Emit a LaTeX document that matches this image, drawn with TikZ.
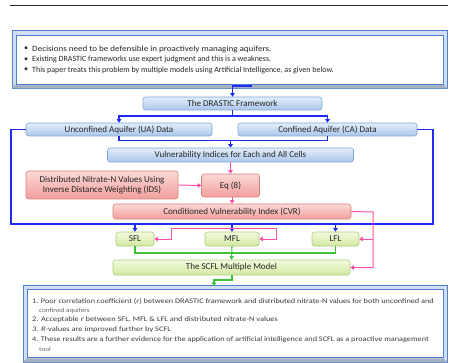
\documentclass[tikz,border=0pt]{standalone}
\usepackage{fontspec}
\usepackage{graphicx}
\setmainfont{Carlito}
\usetikzlibrary{arrows.meta,calc}
\definecolor{lblue}{HTML}{1F2BF5}
\definecolor{lpink}{HTML}{FF4FA8}
\definecolor{lgreen}{HTML}{3EC23A}
\definecolor{btop}{HTML}{E4EEFA}
\definecolor{bbot}{HTML}{A9C6EC}
\definecolor{bbord}{HTML}{7FA6DA}
\definecolor{ptop}{HTML}{FCD9D7}
\definecolor{pbot}{HTML}{F09F9C}
\definecolor{pbord}{HTML}{D8807C}
\definecolor{gtop}{HTML}{F3FAE0}
\definecolor{gbot}{HTML}{D2E9A0}
\definecolor{gbord}{HTML}{AECD78}
\definecolor{fblue}{HTML}{4F7FD2}
\definecolor{fbevel}{HTML}{D3DFF0}
\definecolor{fshade}{HTML}{A7B0BE}
\definecolor{txt}{HTML}{262626}
\begin{document}
\begin{tikzpicture}[x=1pt,y=1pt,
  box/.style={rounded corners=2.5pt, inner sep=0pt, minimum height=13pt, text=txt,
    font=\fontsize{9}{10}\selectfont, align=center},
  bluebox/.style={box, draw=bbord, line width=0.6pt, top color=btop, bottom color=bbot},
  pinkbox/.style={box, draw=pbord, line width=0.6pt, top color=ptop, bottom color=pbot},
  greenbox/.style={box, draw=gbord, line width=0.6pt, top color=gtop, bottom color=gbot},
  tip/.style={-{Triangle[width=4.5pt,length=3.5pt]}},
  bl/.style={draw=lblue, line width=1.1pt},
  bla/.style={bl, tip},
  pk/.style={draw=lpink, line width=1pt},
  pka/.style={pk, tip},
  gr/.style={draw=lgreen, line width=1.1pt},
  gra/.style={gr, tip},
  outerframe/.style={draw=fblue, line width=0.7pt, fill=fbevel, inner sep=0pt},
  innerframe/.style={draw=fblue, line width=0.5pt, fill=white, inner sep=0pt},
  topline/.style={anchor=west, inner sep=0pt, text=txt, font=\fontsize{8}{9}\selectfont},
  botline/.style={anchor=west, inner sep=0pt, text=txt!90, font=\fontsize{7}{8}\selectfont},
  botsmall/.style={anchor=west, inner sep=0pt, text=txt!70, font=\fontsize{6.3}{7}\selectfont}
]
\useasboundingbox (0,0) rectangle (449,-363);

% top rule
\coordinate (r1) at (10,-5);
\coordinate (r2) at (448,-5);
\draw[line width=0.8pt, black!85] (r1) -- (r2);

% top frame
\node[outerframe, minimum width=435pt, minimum height=58pt] (topouter) at (229.5,-59) {};
\fill[fshade] (topouter.south west) -- ++(4,4) -- ($(topouter.south east)+(-4,4)$) -- (topouter.south east) -- cycle;
\node[innerframe, minimum width=427pt, minimum height=49pt] (topbox) at (229.5,-59.5) {};
\node[topline] (b1) at (24,-49) {•};
\node[topline] (t1) at (32,-49) {\scalebox{1.13}[1]{Decisions need to be defensible in proactively managing aquifers.}};
\node[topline] (b2) at (24,-59.5) {•};
\node[topline] (t2) at (32,-59.5) {Existing DRASTIC frameworks use expert judgment and this is a weakness.};
\node[topline] (b3) at (24,-70) {•};
\node[topline] (t3) at (32,-70) {This paper treats this problem by multiple models using Artificial Intelligence, as given below.};

% boxes
\node[bluebox, minimum width=179pt] (dr) at (232.5,-103.5) {The DRASTIC Framework};
\node[bluebox, minimum width=186pt] (ua) at (119,-129.5) {Unconfined Aquifer (UA) Data};
\node[bluebox, minimum width=179pt] (ca) at (327.5,-129.5) {Confined Aquifer (CA) Data};
\node[bluebox, minimum width=246pt, minimum height=14pt] (vi) at (230.5,-155) {Vulnerability Indices for Each and All Cells};
\node[pinkbox, minimum width=152pt, minimum height=28pt] (ni) at (102,-185) {Distributed Nitrate-N Values Using\\Inverse Distance Weighting (IDS)};
\node[pinkbox, minimum width=58pt, minimum height=23pt] (eq) at (230.5,-185.5) {Eq (8)};
\node[pinkbox, minimum width=238pt, minimum height=15pt] (cvr) at (232,-211.5) {Conditioned Vulnerability Index (CVR)};
\node[greenbox, minimum width=38pt, minimum height=14pt] (sfl) at (135,-239) {SFL};
\node[greenbox, minimum width=54pt, minimum height=14pt] (mfl) at (232,-239) {MFL};
\node[greenbox, minimum width=47pt, minimum height=14pt] (lfl) at (335.5,-239) {LFL};
\node[greenbox, minimum width=237pt, minimum height=15pt] (scfl) at (231.5,-267.5) {The SCFL Multiple Model};

% bottom frame
\node[outerframe, minimum width=424pt, minimum height=77pt] (botouter) at (235,-323.5) {};
\fill[fshade] (botouter.south west) -- ++(4,4) -- ($(botouter.south east)+(-4,4)$) -- (botouter.south east) -- cycle;
\node[innerframe, minimum width=416pt, minimum height=68pt] (botbox) at (235,-323) {};
\node[botline] (l1) at (32,-301) {\scalebox{1.18}[1]{1. Poor correlation coefficient (\textit{r}) between DRASTIC framework and distributed nitrate-N values for both unconfined and}};
\node[botsmall] (l1b) at (39,-310.5) {\scalebox{1.14}[1]{confined aquifers}};
\node[botline] (l2) at (32,-320) {\scalebox{1.2}[1]{2. Acceptable \textit{r} between SFL, MFL \& LFL and distributed nitrate-N values}};
\node[botline] (l3) at (32,-330) {\scalebox{1.2}[1]{\textit{3. R-}values are improved further by SCFL}};
\node[botline] (l4) at (32,-340) {\scalebox{1.18}[1]{4. These results are a further evidence for the application of artificial intelligence and SCFL as a proactive management}};
\node[botsmall] (l4b) at (39,-349.5) {\scalebox{1.14}[1]{tool}};

% blue connectors
\coordinate (c0) at (252,-86);
\draw[bla] (c0) -| (dr.north);
\coordinate (d1) at (232.5,-116);
\draw[bl] (dr.south) -- (d1);
\draw[bla] (d1) -| (ua.north);
\draw[bla] (d1) -| (ca.north);
\coordinate (m1) at (230.5,-140.5);
\draw[bl] (ua.south) |- (m1) -| (ca.south);
\draw[bla] (m1) -- (vi.north);
\coordinate (lb) at (11,-224);
\coordinate (rb) at (433,-224);
\draw[bl] (ua.west) -| (lb) -- (rb) |- (ca.east);
\draw[bla] (sfl.north |- lb) -- (sfl.north);
\draw[bla] (mfl.north |- lb) -- (mfl.north);
\draw[bla] (lfl.north |- lb) -- (lfl.north);

% pink connectors
\draw[pka] (vi.south) -- (eq.north);
\draw[pka] (ni.east) -- (eq.west);
\draw[pka] (eq.south -| cvr.north) -- (cvr.north);
\coordinate (pr) at (373,-212);
\draw[pka] (cvr.east) -- (pr) |- (scfl.east);
\draw[pka] (lfl.east -| pr) -- (lfl.east);
\coordinate (pinkmid) at (223,-228);
\coordinate (pinkleft) at (171,-228);
\coordinate (pinkright) at (276,-228);
\draw[pk] (pinkleft) -- (pinkright);
\draw[pka] (pinkleft) |- (sfl.east);
\draw[pka] (pinkright) |- (mfl.east);

% green connectors
\coordinate (g1) at (232,-253);
\draw[gr] (sfl.south) |- (g1) -| (lfl.south);
\draw[gra] (mfl.south) -- (scfl.north);
\coordinate (g2) at (232,-280);
\coordinate (g3) at (214,-286);
\draw[gra] (scfl.south -| g2) -- (g2) -| (g3);
\end{tikzpicture}
\end{document}
